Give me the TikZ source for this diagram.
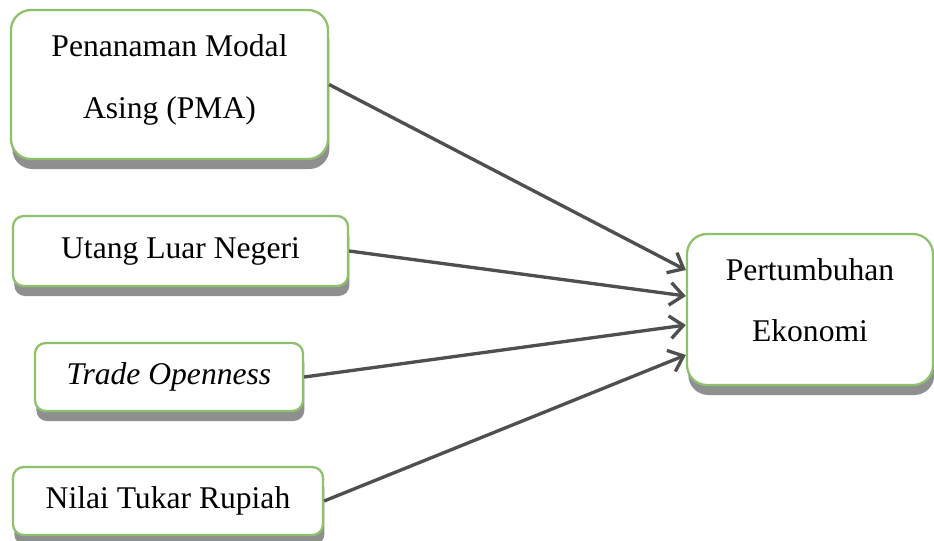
\documentclass[tikz,border=0pt]{standalone}
\usepackage{fontspec}
\setmainfont{Liberation Serif}
\usetikzlibrary{arrows.meta,calc,shadows}
\definecolor{leaf}{HTML}{8DC16C}
\definecolor{wire}{HTML}{4F4F4F}
\definecolor{shade}{HTML}{8F8F8F}
\tikzset{
  every picture/.style={x=0.75pt, y=-0.75pt},
  factor/.style={draw=leaf, fill=white, line width=1.7pt, align=center, inner sep=0pt,
    font=\fontsize{23.7}{45.8}\selectfont,
    drop shadow={shadow xshift=1pt, shadow yshift=-7.5pt, fill=shade, opacity=1}},
  link/.style={-{Straight Barb[length=10pt, width=17pt, line width=2.5pt]}, draw=wire, line width=2.5pt},
}
\begin{document}
\begin{tikzpicture}
\useasboundingbox (0,0) rectangle (934,540);
\node[factor, rounded corners=15pt, minimum width=317*0.75pt, minimum height=149*0.75pt, text depth=12pt] (pma) at (169.5,84.5) {Penanaman Modal\\Asing (PMA)};
\node[factor, rounded corners=8pt, minimum width=335*0.75pt, minimum height=70*0.75pt] (utang) at (180.5,251) {Utang Luar Negeri};
\node[factor, rounded corners=8pt, minimum width=268*0.75pt, minimum height=68*0.75pt] (trade) at (169,377) {\textit{Trade Openness}};
\node[factor, rounded corners=8pt, minimum width=310*0.75pt, minimum height=68*0.75pt] (kurs) at (168,501) {Nilai Tukar Rupiah};
\node[factor, rounded corners=15pt, minimum width=246*0.75pt, minimum height=151*0.75pt, text depth=14pt] (growth) at (810,309.5) {Pertumbuhan\\Ekonomi};
\foreach \src/\dy in {pma/-39.5, utang/-13.5, trade/15.5, kurs/45.5}
  \draw[link] (\src.east) -- ([yshift=-\dy*0.75pt]growth.west);
\end{tikzpicture}
\end{document}
